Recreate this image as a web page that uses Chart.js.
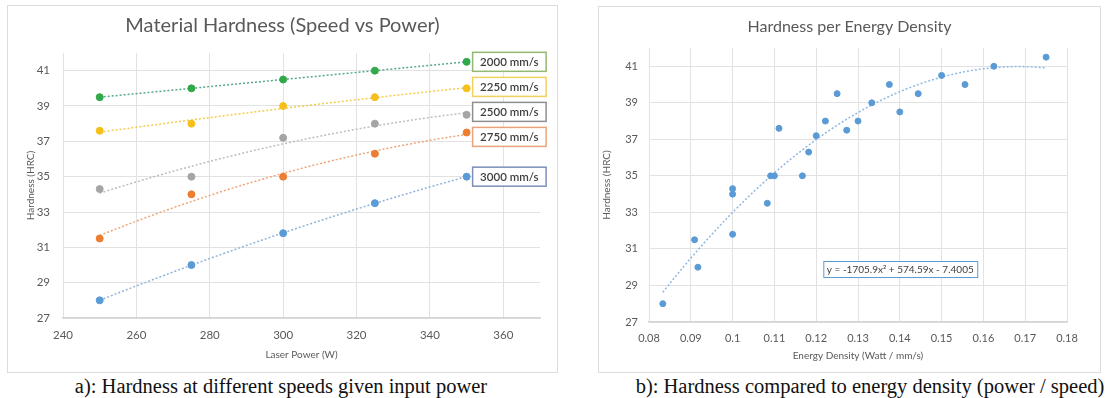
<!DOCTYPE html>
<html>
<head>
<meta charset="utf-8">
<script src="https://cdn.jsdelivr.net/npm/chart.js@4.4.0/dist/chart.umd.min.js"></script>
<style>
body { margin: 0; background: #fff; width: 1106px; height: 398px; position: relative; overflow: hidden; }
.panel { position: absolute; box-sizing: border-box; border: 1px solid #dcdcdc; background: #fff; }
.panel canvas { display: block; }
.caption { position: absolute; font-family: "Liberation Serif", serif; font-size: 20.5px; line-height: 22px; color: #111; white-space: nowrap; transform: translateX(-50%); }
</style>
</head>
<body>
<div class="panel" style="left:7px;top:5px;width:551px;height:368px"><canvas id="speedChart" width="549" height="366"></canvas></div>
<div class="panel" style="left:598px;top:6px;width:503px;height:367px"><canvas id="densityChart" width="501" height="365"></canvas></div>
<div class="caption" style="left:281px;top:375px">a): Hardness at different speeds given input power</div>
<div class="caption" style="left:870px;top:375px">b): Hardness compared to energy density (power / speed)</div>
<script>
// chart a) hardness per laser power, one series per scan speed
const laserPower = [250, 275, 300, 325, 350];
const speedLabels = ['2000 mm/s', '2250 mm/s', '2500 mm/s', '2750 mm/s', '3000 mm/s'];
const hardness2000 = [39.5, 40.0, 40.5, 41.0, 41.5];
const hardness2250 = [37.6, 38.0, 39.0, 39.5, 40.0];
const hardness2500 = [34.3, 35.0, 37.2, 38.0, 38.5];
const hardness2750 = [31.5, 34.0, 35.0, 36.3, 37.5];
const hardness3000 = [28.0, 30.0, 31.8, 33.5, 35.0];
const powerTicks = [240, 260, 280, 300, 320, 340, 360];
const hardnessTicks = [27, 29, 31, 33, 35, 37, 39, 41];

// chart b) hardness per energy density
const energyDensity = [
    0.0833, 0.0917, 0.1, 0.1083, 0.1167,
    0.0909, 0.1, 0.1091, 0.1182, 0.1273,
    0.1, 0.11, 0.12, 0.13, 0.14,
    0.1111, 0.1222, 0.1333, 0.1444, 0.1556,
    0.125, 0.1375, 0.15, 0.1625, 0.175
];
const densityHardness = [
    28.0, 30.0, 31.8, 33.5, 35.0,
    31.5, 34.0, 35.0, 36.3, 37.5,
    34.3, 35.0, 37.2, 38.0, 38.5,
    37.6, 38.0, 39.0, 39.5, 40.0,
    39.5, 40.0, 40.5, 41.0, 41.5
];
const densityTicks = [0.08, 0.09, 0.1, 0.11, 0.12, 0.13, 0.14, 0.15, 0.16, 0.17, 0.18];
const trendCoefficients = [-1705.9, 574.59, -7.4005];
const trendLabel = 'y = -1705.9x\u00B2 + 574.59x - 7.4005';

const speedSeries = [hardness2000, hardness2250, hardness2500, hardness2750, hardness3000];
const seriesColors = ['#31a84a', '#f6c01c', '#a5a5a5', '#ed7d31', '#5b9bd5'];
const trendColors = ['#55a98a', '#f3cd4a', '#bdbdbd', '#efa577', '#8fb3d9'];
const labelBorders = ['#93b872', '#f3d060', '#8f8f8f', '#e9a47c', '#7d8fb8'];

const TEXT = '#595959';
const GRID = '#e2e2e2';

// least squares quadratic, x centred to keep the numbers small
function fitQuadratic(xs, ys) {
    const mid = xs.reduce((a, b) => a + b, 0) / xs.length;
    const s = [0, 0, 0, 0, 0], t = [0, 0, 0];
    xs.forEach((x, i) => {
        const u = x - mid;
        for (let k = 0; k < 5; k++) s[k] += Math.pow(u, k);
        for (let k = 0; k < 3; k++) t[k] += Math.pow(u, k) * ys[i];
    });
    const m = [[s[4], s[3], s[2], t[2]], [s[3], s[2], s[1], t[1]], [s[2], s[1], s[0], t[0]]];
    for (let c = 0; c < 3; c++) {
        for (let r = c + 1; r < 3; r++) {
            const f = m[r][c] / m[c][c];
            for (let k = c; k < 4; k++) m[r][k] -= f * m[c][k];
        }
    }
    const sol = [0, 0, 0];
    for (let r = 2; r >= 0; r--) {
        let v = m[r][3];
        for (let k = r + 1; k < 3; k++) v -= m[r][k] * sol[k];
        sol[r] = v / m[r][r];
    }
    return x => sol[0] * (x - mid) * (x - mid) + sol[1] * (x - mid) + sol[2];
}

const panelTitle = {
    id: 'panelTitle',
    afterDraw(chart, args, opts) {
        const ctx = chart.ctx;
        ctx.save();
        ctx.font = opts.font;
        ctx.fillStyle = TEXT;
        ctx.textAlign = 'center';
        ctx.textBaseline = 'middle';
        ctx.fillText(opts.text, chart.width / 2, opts.y);
        ctx.restore();
    }
};

function trendPlugin(lines) {
    return {
        id: 'trendLines',
        beforeDatasetsDraw(chart) {
            const {ctx, scales: {x, y}} = chart;
            ctx.save();
            ctx.lineWidth = 1.5;
            ctx.setLineDash([2, 2]);
            lines.forEach(line => {
                ctx.strokeStyle = line.color;
                ctx.beginPath();
                const steps = 80;
                for (let i = 0; i <= steps; i++) {
                    const xv = line.from + (line.to - line.from) * i / steps;
                    const px = x.getPixelForValue(xv);
                    const py = y.getPixelForValue(line.fn(xv));
                    if (i === 0) ctx.moveTo(px, py); else ctx.lineTo(px, py);
                }
                ctx.stroke();
            });
            ctx.restore();
        }
    };
}

// series name boxes next to the last point of each series
const endLabels = {
    id: 'endLabels',
    afterDatasetsDraw(chart) {
        const ctx = chart.ctx;
        const h = 19, spacing = 25;
        const items = chart.data.datasets.map((ds, i) => {
            const pt = chart.getDatasetMeta(i).data[ds.data.length - 1];
            return {text: ds.label, color: labelBorders[i], x: pt.x + 6, y: pt.y};
        }).sort((a, b) => a.y - b.y);
        for (let n = 0; n < 30; n++) {
            for (let i = 1; i < items.length; i++) {
                const d = items[i].y - items[i - 1].y;
                if (d < spacing) {
                    const push = (spacing - d) / 2;
                    items[i].y += push;
                    items[i - 1].y -= push;
                }
            }
        }
        ctx.save();
        ctx.font = '600 11.5px Lato';
        ctx.textBaseline = 'middle';
        items.forEach(it => {
            const w = ctx.measureText(it.text).width + 15;
            ctx.fillStyle = '#fff';
            ctx.fillRect(it.x, it.y - h / 2, w, h);
            ctx.strokeStyle = it.color;
            ctx.lineWidth = 1.5;
            ctx.strokeRect(it.x, it.y - h / 2, w, h);
            ctx.fillStyle = '#3f3f3f';
            ctx.fillText(it.text, it.x + 7.5, it.y + 0.5);
        });
        ctx.restore();
    }
};

const equationBox = {
    id: 'equationBox',
    afterDatasetsDraw(chart) {
        const {ctx, scales: {x, y}} = chart;
        const left = x.getPixelForValue(0.1217);
        const mid = y.getPixelForValue(29.9);
        ctx.save();
        ctx.font = '10px Lato';
        const w = ctx.measureText(trendLabel).width + 7;
        ctx.fillStyle = '#fff';
        ctx.fillRect(left, mid - 8, w, 16);
        ctx.strokeStyle = '#5b9bd5';
        ctx.lineWidth = 1;
        ctx.strokeRect(left + 0.5, mid - 7.5, w, 16);
        ctx.fillStyle = '#404040';
        ctx.textBaseline = 'middle';
        ctx.fillText(trendLabel, left + 3.5, mid + 0.5);
        ctx.restore();
    }
};

function axisFont(size) {
    return {family: 'Lato', size: size};
}

function fixedTicks(values) {
    return scale => { scale.ticks = values.map(v => ({value: v})); };
}

new Chart(document.getElementById('speedChart'), {
    type: 'scatter',
    data: {
        datasets: speedSeries.map((vals, i) => ({
            label: speedLabels[i],
            data: laserPower.map((p, j) => ({x: p, y: vals[j]})),
            backgroundColor: seriesColors[i],
            borderColor: seriesColors[i],
            pointRadius: 3.5,
            pointHoverRadius: 3.5
        }))
    },
    options: {
        responsive: false,
        animation: false,
        events: [],
        layout: {padding: {top: 47, right: 17, left: 0, bottom: 0}},
        plugins: {
            legend: {display: false},
            tooltip: {enabled: false},
            panelTitle: {text: 'Material Hardness (Speed vs Power)', font: '20px Lato', y: 20}
        },
        scales: {
            x: {
                type: 'linear', min: 240, max: 370,
                afterBuildTicks: fixedTicks(powerTicks),
                afterFit: s => { s.height = 54; },
                ticks: {padding: 10, color: TEXT, font: axisFont(11.5)},
                grid: {color: GRID, drawTicks: false},
                border: {color: '#d4d4d4', width: 1.5},
                title: {display: true, text: 'Laser Power (W)', color: TEXT, font: axisFont(10), padding: {top: 0, bottom: 11}}
            },
            y: {
                min: 27, max: 42,
                afterBuildTicks: fixedTicks(hardnessTicks),
                afterFit: s => { s.width = 55; },
                ticks: {padding: 13, color: TEXT, font: axisFont(11.5)},
                grid: {color: GRID, drawTicks: false},
                border: {display: false},
                title: {display: true, text: 'Hardness (HRC)', color: TEXT, font: axisFont(10), padding: {top: 17, bottom: 0}}
            }
        }
    },
    plugins: [
        panelTitle,
        trendPlugin(speedSeries.map((vals, i) => ({
            color: trendColors[i], from: laserPower[0], to: laserPower[laserPower.length - 1],
            fn: fitQuadratic(laserPower, vals)
        }))),
        endLabels
    ]
});

new Chart(document.getElementById('densityChart'), {
    type: 'scatter',
    data: {
        datasets: [{
            label: 'Hardness',
            data: energyDensity.map((e, i) => ({x: e, y: densityHardness[i]})),
            backgroundColor: '#5b9bd5',
            borderColor: '#5b9bd5',
            pointRadius: 3,
            pointHoverRadius: 3
        }]
    },
    options: {
        responsive: false,
        animation: false,
        events: [],
        layout: {padding: {top: 41, right: 33, left: 0, bottom: 0}},
        plugins: {
            legend: {display: false},
            tooltip: {enabled: false},
            panelTitle: {text: 'Hardness per Energy Density', font: '16px Lato', y: 20}
        },
        scales: {
            x: {
                type: 'linear', min: 0.08, max: 0.18,
                afterBuildTicks: fixedTicks(densityTicks),
                afterFit: s => { s.height = 50; },
                ticks: {padding: 10, color: TEXT, font: axisFont(11), callback: v => String(+v.toFixed(2))},
                grid: {color: GRID, drawTicks: false},
                border: {color: '#d4d4d4', width: 1.5},
                title: {display: true, text: 'Energy Density (Watt / mm/s)', color: TEXT, font: axisFont(10), padding: {top: 0, bottom: 10}}
            },
            y: {
                min: 27, max: 42,
                afterBuildTicks: fixedTicks(hardnessTicks),
                afterFit: s => { s.width = 50; },
                ticks: {padding: 11, color: TEXT, font: axisFont(11)},
                grid: {color: GRID, drawTicks: false},
                border: {display: false},
                title: {display: true, text: 'Hardness (HRC)', color: TEXT, font: axisFont(10), padding: {top: 2, bottom: 0}}
            }
        }
    },
    plugins: [
        panelTitle,
        trendPlugin([{
            color: '#8fb8e0', from: energyDensity[0], to: 0.175,
            fn: x => trendCoefficients[0] * x * x + trendCoefficients[1] * x + trendCoefficients[2]
        }]),
        equationBox
    ]
});
</script>
</body>
</html>
